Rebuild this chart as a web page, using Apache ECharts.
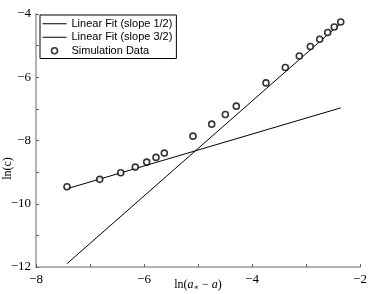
<!DOCTYPE html>
<html><head><meta charset="utf-8">
<script src="https://cdn.jsdelivr.net/npm/echarts@6/dist/echarts.min.js"></script>
<style>html,body{margin:0;padding:0;background:#fff}#c{width:374px;height:294px}</style>
</head><body><div id="c"></div>
<script>
const simX = [-7.426,-6.820,-6.431,-6.161,-5.950,-5.778,-5.624,-5.093,-4.746,-4.494,-4.291,-3.741,-3.383,-3.124,-2.920,-2.746,-2.598,-2.476,-2.357];
const simY = [-9.463,-9.229,-9.021,-8.841,-8.683,-8.534,-8.398,-7.862,-7.483,-7.176,-6.914,-6.179,-5.692,-5.326,-5.029,-4.799,-4.587,-4.410,-4.253];
const fitHalfX = [-7.426, -2.357];
const fitHalfY = [-9.526, -6.968];
const fitThreeHalfX = [-7.426, -2.357];
const fitThreeHalfY = [-11.894, -4.290];
const seriesNames = ['Linear Fit (slope 1/2)', 'Linear Fit (slope 3/2)', 'Simulation Data'];

const zip = (a, b) => a.map((v, i) => [v, b[i]]);
const serif = '"Liberation Serif", "DejaVu Serif", serif';
const fmt = v => (v % 2 === 0 ? (v < 0 ? '\u2212' + Math.abs(v) : String(v)) : '');
const hidden = {color: 'rgba(0,0,0,0)', borderColor: 'rgba(0,0,0,0)', borderWidth: 0, opacity: 0};

const chart = echarts.init(document.getElementById('c'), null, {renderer: 'canvas'});
chart.setOption({
  animation: false,
  backgroundColor: '#fff',
  grid: {left: 36, right: 14, top: 14, bottom: 27, containLabel: false, outerBoundsMode: 'none'},
  legend: {
    orient: 'vertical', left: 40, top: 15,
    backgroundColor: '#fff', borderColor: '#000', borderWidth: 1, borderRadius: 0,
    padding: [2, 4, 1, 2], itemGap: 0, itemWidth: 24, itemHeight: 6,
    lineStyle: {width: 1, color: '#000'},
    textStyle: {fontFamily: '"Liberation Sans", Arial, sans-serif', fontSize: 11, color: '#000', lineHeight: 13.5},
    data: [
      {name: seriesNames[0], itemStyle: hidden},
      {name: seriesNames[1], itemStyle: hidden},
      {name: seriesNames[2], itemStyle: {color: '#fff', borderColor: '#000', borderWidth: 1.6}}
    ]
  },
  xAxis: {
    type: 'value', min: -8, max: -2, interval: 1,
    name: '{r|ln(}{i|a}{s|\u2217}{r| \u2212 }{i|a}{r|)}', nameLocation: 'middle', nameGap: 11,
    nameMoveOverlap: false,
    nameTextStyle: {rich: {
      r: {fontFamily: serif, fontSize: 12, color: '#000'},
      i: {fontFamily: serif, fontSize: 12, fontStyle: 'italic', color: '#000'},
      s: {fontFamily: serif, fontSize: 8, color: '#000', verticalAlign: 'bottom', padding: [6, 0, 0, 0]}
    }},
    axisLine: {show: true, onZero: false, lineStyle: {color: '#b4b4b4', width: 2}},
    axisTick: {show: true, inside: true, length: 3, lineStyle: {color: '#666', width: 1}},
    axisLabel: {formatter: fmt, fontFamily: serif, fontSize: 13, color: '#000', margin: 6},
    splitLine: {show: false}
  },
  yAxis: {
    type: 'value', min: -12, max: -4, interval: 1,
    name: 'ln(c)', nameLocation: 'middle', nameGap: 22, nameRotate: 90,
    nameMoveOverlap: false,
    nameTextStyle: {fontFamily: serif, fontSize: 12, color: '#000', padding: [0, 56, 0, 0]},
    axisLine: {show: true, onZero: false, lineStyle: {color: '#b4b4b4', width: 2}},
    axisTick: {show: true, inside: true, length: 3, lineStyle: {color: '#666', width: 1}},
    axisLabel: {formatter: fmt, fontFamily: serif, fontSize: 13, color: '#000', margin: 5},
    splitLine: {show: false}
  },
  series: [
    {name: seriesNames[0], type: 'line', data: zip(fitHalfX, fitHalfY), symbol: 'none',
     lineStyle: {color: '#000', width: 1}, itemStyle: {color: '#000'}, z: 2},
    {name: seriesNames[1], type: 'line', data: zip(fitThreeHalfX, fitThreeHalfY), symbol: 'none',
     lineStyle: {color: '#000', width: 1}, itemStyle: {color: '#000'}, z: 2},
    {name: seriesNames[2], type: 'scatter', data: zip(simX, simY), symbol: 'circle', symbolSize: 6,
     itemStyle: {color: '#fff', borderColor: '#000', borderWidth: 1.6}, z: 3}
  ]
});
</script></body></html>
